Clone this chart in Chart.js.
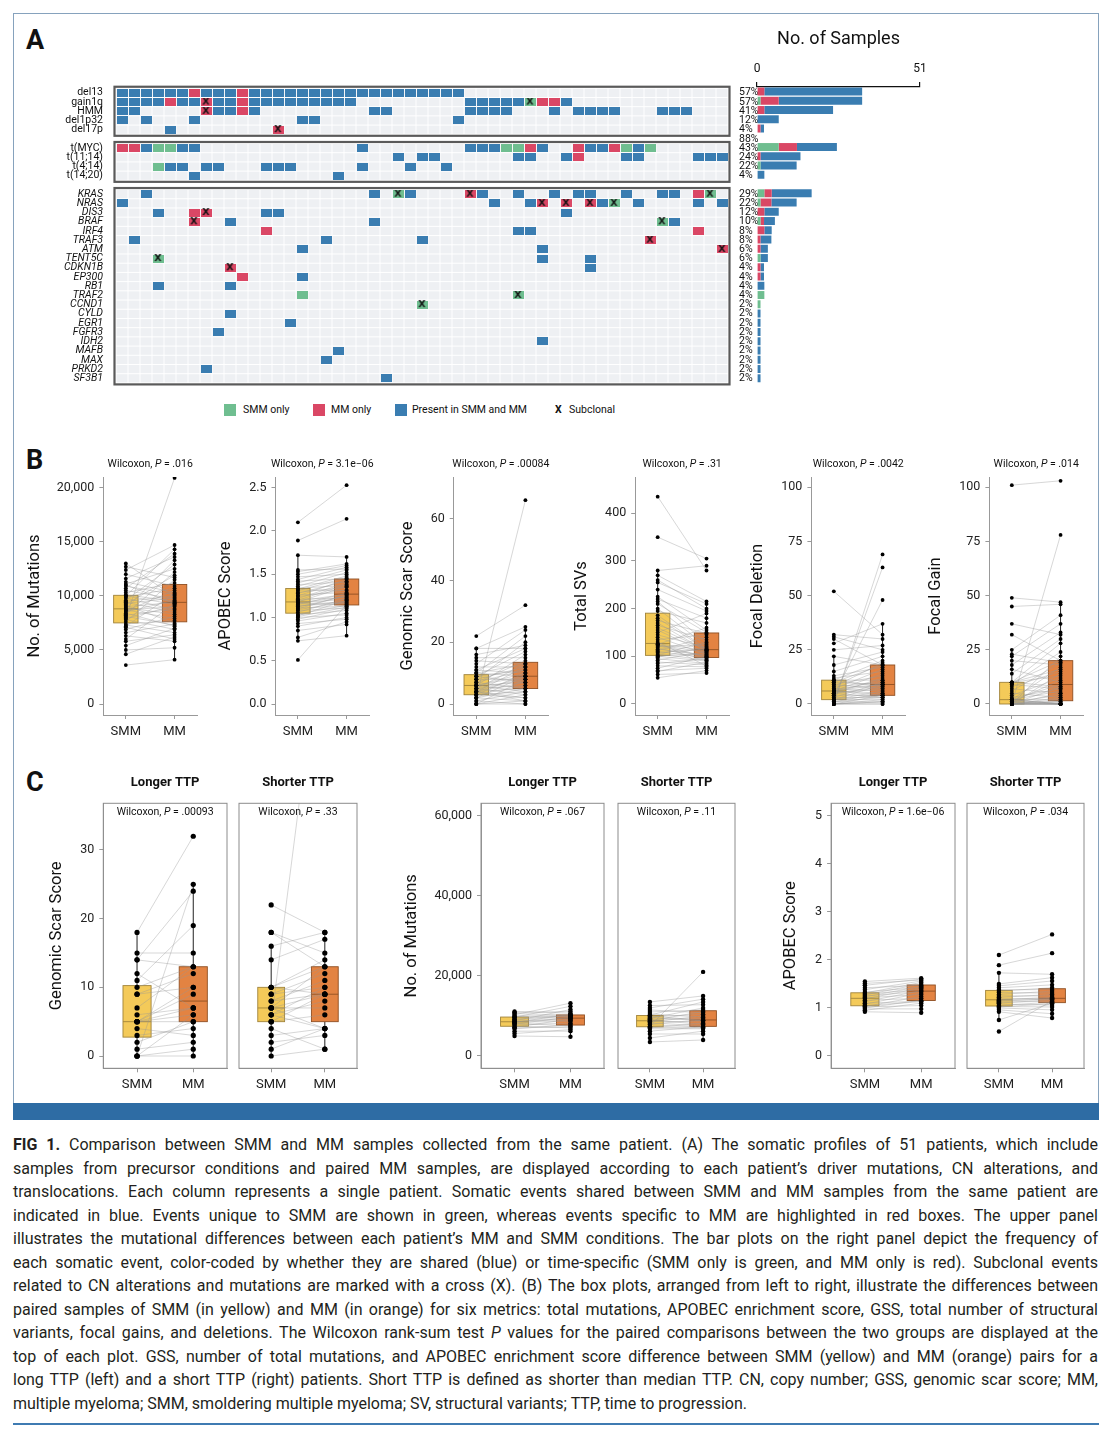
<!DOCTYPE html>
<html>
<head>
<meta charset="utf-8">
<title>FIG 1</title>
<script src="https://cdn.jsdelivr.net/npm/chart.js@4.4.1/dist/chart.umd.min.js"></script>
<style>
html,body{margin:0;padding:0;background:#fff;}
body{width:1110px;height:1438px;position:relative;overflow:hidden;font-family:Roboto,"Liberation Sans",Arial,sans-serif;color:#111;}
canvas{position:absolute;}
.abs{position:absolute;}
.letter{position:absolute;font-weight:700;font-size:27px;line-height:1;left:26px;}
.lg{position:absolute;top:403px;font-size:10.5px;line-height:14px;white-space:nowrap;color:#111;}
.sw{position:absolute;top:404px;width:12px;height:12px;}
#caption{position:absolute;left:13px;top:1133px;width:1085px;font-size:16px;line-height:23.5px;color:#231f20;}
.ln{white-space:nowrap;text-align:justify;text-align-last:justify;}
.ln.last{text-align-last:left;}
</style>
</head>
<body>
<div class="abs" style="left:13px;top:13px;width:1084px;height:1090px;border:1.5px solid #86a2bd;border-bottom:none;"></div>
<div class="abs" style="left:13px;top:1103px;width:1086px;height:17px;background:#2e6ca4;"></div>
<div class="abs" style="left:13px;top:1423px;width:1086px;height:1.5px;background:#3f7bb2;"></div>

<div class="letter" style="top:27px;">A</div>
<div class="letter" style="top:447px;">B</div>
<div class="letter" style="top:769px;">C</div>

<div class="sw" style="left:224px;background:#6fbe90;"></div><div class="lg" style="left:243px;">SMM only</div>
<div class="sw" style="left:313px;background:#da4765;"></div><div class="lg" style="left:331px;">MM only</div>
<div class="sw" style="left:395px;background:#3a7db1;"></div><div class="lg" style="left:412px;">Present in SMM and MM</div>
<div class="lg" style="left:555px;font-weight:700;">X</div><div class="lg" style="left:569px;">Subclonal</div>

<div id="caption">
<div class="ln"><b>FIG 1.</b> Comparison between SMM and MM samples collected from the same patient. (A) The somatic profiles of 51 patients, which include</div>
<div class="ln">samples from precursor conditions and paired MM samples, are displayed according to each patient’s driver mutations, CN alterations, and</div>
<div class="ln">translocations. Each column represents a single patient. Somatic events shared between SMM and MM samples from the same patient are</div>
<div class="ln">indicated in blue. Events unique to SMM are shown in green, whereas events specific to MM are highlighted in red boxes. The upper panel</div>
<div class="ln">illustrates the mutational differences between each patient’s MM and SMM conditions. The bar plots on the right panel depict the frequency of</div>
<div class="ln">each somatic event, color-coded by whether they are shared (blue) or time-specific (SMM only is green, and MM only is red). Subclonal events</div>
<div class="ln">related to CN alterations and mutations are marked with a cross (X). (B) The box plots, arranged from left to right, illustrate the differences between</div>
<div class="ln">paired samples of SMM (in yellow) and MM (in orange) for six metrics: total mutations, APOBEC enrichment score, GSS, total number of structural</div>
<div class="ln">variants, focal gains, and deletions. The Wilcoxon rank-sum test <i>P</i> values for the paired comparisons between the two groups are displayed at the</div>
<div class="ln">top of each plot. GSS, number of total mutations, and APOBEC enrichment score difference between SMM (yellow) and MM (orange) pairs for a</div>
<div class="ln">long TTP (left) and a short TTP (right) patients. Short TTP is defined as shorter than median TTP. CN, copy number; GSS, genomic scar score; MM,</div>
<div class="ln last">multiple myeloma; SMM, smoldering multiple myeloma; SV, structural variants; TTP, time to progression.</div>
</div>

<script>
// ================= DATA: Panel A (oncoplot) =================
const rowLabels = ['del13','gain1q','HMM','del1p32','del17p','',
  't(MYC)','t(11;14)','t(4;14)','t(14;20)','',
  'KRAS','NRAS','DIS3','BRAF','IRF4','TRAF3','ATM','TENT5C','CDKN1B','EP300','RB1','TRAF2','CCND1',
  'CYLD','EGR1','FGFR3','IDH2','MAFB','MAX','PRKD2','SF3B1'];
const rowPercents = ['57%','57%','41%','12%','4%','88%',
  '43%','24%','22%','4%','',
  '29%','22%','12%','10%','8%','8%','6%','6%','4%','4%','4%','4%','2%',
  '2%','2%','2%','2%','2%','2%','2%','2%'];
// patient columns (0-50) per row
const sharedCells = [
  [0,1,2,3,4,5,7,8,9,11,12,13,14,15,16,17,18,19,20,21,22,23,24,25,26,27,28],
  [0,1,2,3,5,6,8,9,11,12,13,14,15,16,17,18,19,29,30,31,32,33,37],
  [0,1,8,9,11,21,22,29,30,31,32,36,38,39,40,41,45,46,47],
  [0,2,6,15,16,28],
  [4],
  [],
  [2,5,6,20,29,30,31,35,39,40,43],
  [23,25,26,33,34,37,42,43,48,49,50],
  [4,5,7,8,12,13,14,20,24,27],
  [6,18],
  [],
  [2,21,24,30,33,36,38,39,42,45,46],
  [0,31,34,40,43,48,50],
  [3,12,13,37],
  [9,21,46],
  [33,34],
  [1,17,25],
  [15,35],
  [35,39],
  [39],
  [15],
  [3,9],
  [],
  [],
  [9],[14],[8],[35],[18],[17],[7],[22]
];
const mmOnlyCells = [
  [6,10],[4,7,10,35,36],[7,10],[],[13],[],
  [0,1,34,38,41],[38],[],[],[],
  [29,48],[35,37,39],[6,7],[6],[12,48],[44],[50],[],[9],[10],[],[],[],
  [],[],[],[],[],[],[],[]
];
const smmOnlyCells = [
  [],[34],[],[],[],[],
  [3,4,32,33,42,44],[],[3],[],[],
  [23,49],[41],[],[45],[],[],[],[3],[],[],[],[15,33],[25],
  [],[],[],[],[],[],[],[]
];
const subclonalCells = [
  [],[7,34],[7],[],[13],[],
  [],[],[],[],[],
  [23,29,49],[35,37,39,41],[7],[6,45],[],[44],[50],[3],[9],[],[],[33],[25],
  [],[],[],[],[],[],[],[]
];
// bar panel values (No. of Samples axis units), per row
const barSmmOnly = [0,1.1,0,0,0,null, 6.8,0,1.1,0,null, 2.3,1.1,0,1.1,0,0,0,1.1,0,0,0,2.3,1.1, 0,0,0,0,0,0,0,0];
const barMmOnly  = [2.3,5.7,2.3,0,1.1,null, 5.7,1.1,0,0,null, 2.3,3.4,2.3,1.1,2.3,1.1,1.1,0,1.1,1.1,0,0,0, 0,0,0,0,0,0,0,0];
const barShared  = [30.6,26.1,21.5,6.8,1.1,null, 12.5,12.5,11.3,2.3,null, 12.5,7.9,4.5,3.4,2.3,3.4,2.3,2.3,1.1,1.1,2.3,0,0, 1.1,1.1,1.1,1.1,1.1,1.1,1.1,1.1];
const barTicks = [0, 51];

// ================= DATA: Panel B (paired SMM / MM, 51 patients) =================
const smmMutations = [3600,4600,5000,5400,5800,6000,6300,6600,6900,7100,7200,7300,7400,7600,7800,7900,8000,8100,8200,8300,8400,8500,8600,8700,8700,8800,8900,9000,9100,9200,9300,9400,9500,9600,9800,9900,10000,10000,10100,10300,10500,10700,10900,11000,11100,11300,11600,12000,12400,12700,13000];
const mmMutations  = [4100,6200,5200,7000,6400,9300,5800,7400,8100,6000,10200,6600,7700,11500,6900,9100,20900,7300,8800,12200,7200,9600,10500,7900,9000,13300,8300,9400,7500,11900,9800,8500,10000,12900,8700,10700,9200,14300,9500,11200,9700,13900,10100,9300,12500,10300,13600,10900,14700,11700,9900];
const smmApobec = [0.51,0.73,0.77,0.85,0.90,0.93,0.96,0.98,1.00,1.01,1.02,1.03,1.04,1.06,1.08,1.09,1.10,1.11,1.12,1.13,1.14,1.15,1.16,1.17,1.17,1.18,1.19,1.20,1.21,1.22,1.24,1.25,1.26,1.28,1.29,1.31,1.32,1.33,1.34,1.36,1.38,1.40,1.42,1.44,1.47,1.50,1.53,1.55,1.72,1.89,2.10];
const mmApobec  = [1.15,0.79,0.95,0.92,1.00,0.98,1.05,1.10,1.03,1.12,1.20,1.08,1.14,1.22,1.11,1.18,1.26,1.13,1.25,1.19,1.16,1.28,1.17,1.21,1.24,1.36,1.27,1.38,1.23,1.40,1.32,1.44,1.29,1.42,1.35,1.46,1.31,1.48,1.37,1.52,1.41,1.55,1.45,1.58,1.50,1.60,1.62,1.56,1.70,2.14,2.53];
const smmGss = [0,0,0,0,1,1,2,2,2,2,3,3,3,3,4,4,4,4,4,4,5,5,5,5,6,6,6,6,6,7,7,7,8,8,8,9,9,9,10,10,10,11,11,12,13,14,15,16,18,18,22];
const mmGss  = [0,1,3,8,0,4,1,66,5,9,2,6,10,4,1,7,12,5,2,9,3,8,13,6,4,10,7,16,9,11,5,14,8,20,12,7,11,17,9,13,22,10,18,12,24,13,15,19,18,25,32];
const smmSvs = [55,62,68,70,75,80,85,88,92,95,98,100,101,103,105,108,110,112,115,118,120,122,124,125,125,127,130,135,140,145,150,155,160,165,170,175,180,186,195,200,210,215,220,225,240,255,260,270,280,350,435];
const mmSvs  = [70,65,88,75,100,78,95,82,110,85,120,90,105,130,92,115,97,140,102,93,125,98,108,160,99,112,80,145,104,118,190,107,113,135,111,148,114,116,170,122,150,128,180,155,195,210,200,215,290,305,280];
const smmFocalDel = [0,0,0,0,0,0,0,1,1,1,1,2,2,2,2,3,3,4,4,5,5,5,5,6,6,6,6,6,7,7,7,8,8,9,9,10,10,11,11,11,12,13,15,18,22,25,28,30,31,32,52];
const mmFocalDel  = [0,1,69,2,0,4,1,3,1,63,5,2,9,4,6,3,10,4,48,7,3,12,8,9,5,14,4,11,9,16,6,10,19,7,13,9,18,11,20,8,15,17,22,24,18,27,37,18,25,30,32];
const smmFocalGain = [0,0,0,0,0,0,0,0,0,0,0,0,0,0,0,1,1,1,1,1,2,2,2,2,2,2,3,4,5,6,7,8,9,9,10,10,10,10,10,14,16,18,20,22,23,25,32,37,45,49,101];
const mmFocalGain  = [0,0,0,0,0,0,1,1,2,3,5,8,14,22,78,0,0,1,4,11,0,0,2,6,9,17,7,12,3,19,5,15,7,24,8,20,13,28,16,30,10,33,18,37,19,41,20,32,46,47,103];
const pValuesB = ['.016','3.1e\u221206','.00084','.31','.0042','.014'];

// ================= DATA: Panel C (Longer vs Shorter TTP) =================
const gssLongSmm  = [0,0,0,0,1,2,3,4,5,5,5,5,5,6,7,9,9,10,11,12,14,14,15,18];
const gssLongMm   = [0,1,6,25,2,5,4,3,7,10,5,9,6,7,13,12,10,13,19,7,24,13,15,32];
const gssShortSmm = [0,1,2,3,4,5,5,5,6,6,6,7,7,7,7,8,8,9,9,10,10,10,14,16,18,18,22];
const gssShortMm  = [1,4,3,4,1,6,9,66,8,10,4,9,7,13,4,11,9,10,12,13,9,14,17,18,15,13,18];
const mutLongSmm  = [5000,5600,6200,6800,7000,7200,7500,7800,8000,8200,8400,8500,8600,8800,9000,9200,9500,9700,9800,10000,10300,10600,10900,11100];
const mutLongMm   = [4800,6600,6200,7800,7300,9200,7000,8200,9700,7500,10400,8600,9400,11600,8900,10000,9500,12400,9900,10100,13200,10200,11100,10700];
const mutShortSmm = [3500,4500,5500,6200,6800,7000,7200,7400,7800,8000,8300,8500,8700,8800,9000,9200,9400,9600,9800,10000,10200,10500,11000,11500,12000,12600,13500];
const mutShortMm  = [4000,6200,5500,7300,6800,8200,7000,21000,7200,9000,7500,10000,8500,11100,7900,9300,12000,8800,10400,8900,13500,9700,11500,10800,14200,12800,15000];
const apoLongSmm  = [0.92,0.95,0.98,1.00,1.02,1.03,1.05,1.08,1.10,1.13,1.16,1.19,1.21,1.23,1.25,1.27,1.29,1.31,1.33,1.38,1.42,1.47,1.51,1.55];
const apoLongMm   = [0.90,1.10,0.98,1.16,1.05,1.24,1.13,1.31,1.14,1.36,1.20,1.41,1.28,1.45,1.34,1.50,1.38,1.53,1.43,1.56,1.47,1.60,1.58,1.62];
const apoShortSmm = [0.51,0.75,0.92,0.96,1.00,1.02,1.03,1.05,1.08,1.10,1.12,1.14,1.16,1.17,1.19,1.22,1.25,1.28,1.32,1.35,1.38,1.42,1.46,1.50,1.73,1.89,2.10];
const apoShortMm  = [1.15,1.10,0.79,0.88,0.96,1.09,1.02,1.12,1.06,1.17,1.14,1.19,1.18,1.22,1.20,1.28,1.25,1.35,1.31,1.42,1.38,1.48,1.56,1.63,1.70,2.14,2.53];
const pValuesC = ['.00093','.33','.067','.11','1.6e\u221206','.034'];
const facetTitles = ['Longer TTP','Shorter TTP'];
const groupLabels = ['SMM','MM'];

// ================= RENDERING =================
// caption: keep each printed line on one row (compress tracking only if a line would overflow)
document.querySelectorAll('#caption .ln').forEach(el => {
  el.style.display = 'inline-block';
  const w = el.getBoundingClientRect().width;
  const n = el.textContent.length;
  if (w > 1084) el.style.letterSpacing = (-(w - 1083) / n) + 'px';
  el.style.display = 'block';
});

const FAMILY = 'Roboto, "Liberation Sans", Arial, sans-serif';
Chart.defaults.font.family = FAMILY;
Chart.defaults.color = '#222';
const C_BLUE = '#3a7db1', C_RED = '#da4765', C_GREEN = '#6fbe90';

function mk(left, top, w, h) {
  const c = document.createElement('canvas');
  c.width = Math.round(w); c.height = Math.round(h);
  c.style.left = left + 'px'; c.style.top = top + 'px';
  c.style.width = Math.round(w) + 'px'; c.style.height = Math.round(h) + 'px';
  document.body.appendChild(c);
  return c;
}
function cellImg(color) {
  const c = document.createElement('canvas'); c.width = 11; c.height = 8;
  const g = c.getContext('2d'); g.fillStyle = color; g.fillRect(0, 0, 11, 8); return c;
}
function xMarkImg() {
  const c = document.createElement('canvas'); c.width = 11; c.height = 9;
  const g = c.getContext('2d'); g.fillStyle = '#111'; g.font = 'bold 9.5px "DejaVu Sans"';
  g.textAlign = 'center'; g.textBaseline = 'middle'; g.fillText('X', 5.5, 5); return c;
}
function toPoints(rows) { const out = []; rows.forEach((cols, s) => cols.forEach(c => out.push({x: c, y: s}))); return out; }

// ---- Panel A heatmap ----
const heatGroups = [[0, 4], [6, 9], [11, 31]];
const heatPlugin = {
  id: 'heatGrid',
  beforeDatasetsDraw(chart) {
    const {ctx, scales: {x, y}} = chart;
    const cw = x.getPixelForValue(1) - x.getPixelForValue(0);
    const rh = Math.abs(y.getPixelForValue(1) - y.getPixelForValue(0));
    ctx.save();
    ctx.fillStyle = '#eef0f3';
    rowLabels.forEach((lab, s) => {
      if (!lab) return;
      for (let c = 0; c < 51; c++) {
        const px = x.getPixelForValue(c), py = y.getPixelForValue(s);
        ctx.fillRect(px - cw / 2 + 0.5, py - rh / 2 + 0.5, cw - 1, rh - 1);
      }
    });
    ctx.strokeStyle = '#5a5a5a'; ctx.lineWidth = 2.2;
    heatGroups.forEach(([a, b]) => {
      const x0 = x.getPixelForValue(-0.5) - 1.5, x1 = x.getPixelForValue(50.5) + 1.5;
      const y0 = y.getPixelForValue(a - 0.5) - 1.5, y1 = y.getPixelForValue(b + 0.5) + 1.5;
      ctx.strokeRect(x0, y0, x1 - x0, y1 - y0);
    });
    ctx.restore();
  }
};
new Chart(mk(0, 78, 760, 316), {
  type: 'scatter',
  data: {datasets: [
    {label: 'Subclonal', data: toPoints(subclonalCells), pointStyle: xMarkImg(), pointRadius: 4},
    {label: 'SMM only', data: toPoints(smmOnlyCells), pointStyle: cellImg(C_GREEN), pointRadius: 4},
    {label: 'MM only', data: toPoints(mmOnlyCells), pointStyle: cellImg(C_RED), pointRadius: 4},
    {label: 'Present in SMM and MM', data: toPoints(sharedCells), pointStyle: cellImg(C_BLUE), pointRadius: 4}
  ]},
  options: {
    animation: false, responsive: false, events: [],
    layout: {padding: {top: 8.9, bottom: 11.1, left: 0, right: 0}},
    plugins: {legend: {display: false}, tooltip: {enabled: false}},
    scales: {
      x: {type: 'linear', min: -0.5, max: 50.5, display: false},
      y: {type: 'linear', min: -0.5, max: 31.5, reverse: true, position: 'left',
        afterBuildTicks: a => { a.ticks = rowLabels.map((l, i) => ({value: i})); },
        ticks: {autoSkip: false, padding: 5, color: '#111', callback: (v, i) => rowLabels[i],
          font: ctx => ({size: 10.5, style: ctx.index >= 11 ? 'italic' : 'normal', lineHeight: 1})},
        grid: {display: false}, border: {display: false},
        afterFit: s => { s.width = 116; }},
      y2: {type: 'linear', min: -0.5, max: 31.5, reverse: true, position: 'right',
        afterBuildTicks: a => { a.ticks = rowPercents.map((l, i) => ({value: i})); },
        ticks: {autoSkip: false, padding: 3, color: '#111', callback: (v, i) => rowPercents[i],
          font: {size: 10.5, lineHeight: 1}},
        grid: {display: false}, border: {display: false},
        afterFit: s => { s.width = 32; }}
    }
  },
  plugins: [heatPlugin]
});

// ---- Panel A bar chart ----
new Chart(mk(740, 22, 200, 372), {
  type: 'bar',
  data: {
    labels: rowLabels.map((l, i) => l || ('gap' + i)),
    datasets: [
      {label: 'SMM only', data: barSmmOnly, backgroundColor: C_GREEN},
      {label: 'MM only', data: barMmOnly, backgroundColor: C_RED},
      {label: 'Present in SMM and MM', data: barShared, backgroundColor: C_BLUE}
    ]
  },
  options: {
    indexAxis: 'y', animation: false, responsive: false, events: [],
    datasets: {bar: {barPercentage: 0.86, categoryPercentage: 1.0, borderWidth: 0}},
    layout: {padding: {top: 0, bottom: 11.1, left: 17, right: 20}},
    plugins: {legend: {display: false}, tooltip: {enabled: false}},
    scales: {
      y: {type: 'category', stacked: true, display: false},
      x: {type: 'linear', stacked: true, min: 0, max: 51, position: 'top',
        afterBuildTicks: a => { a.ticks = barTicks.map(v => ({value: v})); },
        ticks: {font: {size: 12}, color: '#111', padding: 6},
        grid: {drawOnChartArea: false, tickLength: 5, color: '#111', lineWidth: 1.2},
        border: {display: true, color: '#111', width: 1.2},
        title: {display: true, text: 'No. of Samples', font: {size: 18}, color: '#111', padding: {top: 7, bottom: 0}},
        afterFit: s => { s.height = 64.9; }}
    }
  }
});

// ---- Box plot helpers ----
function quantile(s, p) { const pos = (s.length - 1) * p, lo = Math.floor(pos), hi = Math.ceil(pos); return s[lo] + (s[hi] - s[lo]) * (pos - lo); }
function stats(arr) {
  const s = [...arr].sort((a, b) => a - b);
  const q1 = quantile(s, 0.25), med = quantile(s, 0.5), q3 = quantile(s, 0.75), iqr = q3 - q1;
  const lo = s.find(v => v >= q1 - 1.5 * iqr);
  const hi = [...s].reverse().find(v => v <= q3 + 1.5 * iqr);
  return {q1, med, q3, lo, hi};
}
function drawRich(ctx, parts, cx, cy, size, weight) {
  const fonts = parts.map(p => `${p[1]} ${weight} ${size}px ${FAMILY}`);
  let total = 0;
  parts.forEach((p, i) => { ctx.font = fonts[i]; total += ctx.measureText(p[0]).width; });
  let xx = cx - total / 2;
  ctx.textBaseline = 'middle'; ctx.textAlign = 'left';
  parts.forEach((p, i) => { ctx.font = fonts[i]; ctx.fillText(p[0], xx, cy); xx += ctx.measureText(p[0]).width; });
}
const fmtComma = v => Number(v).toLocaleString('en-US');

function boxChart(o) {
  const lineData = [];
  o.smm.forEach((v, i) => { lineData.push({x: 1, y: v}, {x: 2, y: o.mm[i]}, {x: 1.5, y: null}); });
  const plugin = {
    id: 'boxes',
    beforeDatasetsDraw(chart) {
      const {ctx, chartArea: ca, scales: {x, y}} = chart;
      ctx.save();
      ctx.beginPath(); ctx.rect(ca.left, ca.top, ca.width, ca.height); ctx.clip();
      [[1, o.smm, 'rgba(243,198,76,0.93)', '#a0833a'], [2, o.mm, 'rgba(225,122,52,0.93)', '#8f4f22']].forEach(([pos, data, fill, stroke]) => {
        const st = stats(data);
        const xc = x.getPixelForValue(pos), xl = x.getPixelForValue(pos - 0.25), xr = x.getPixelForValue(pos + 0.25);
        ctx.strokeStyle = '#222'; ctx.lineWidth = 1;
        ctx.beginPath();
        ctx.moveTo(xc, y.getPixelForValue(st.hi)); ctx.lineTo(xc, y.getPixelForValue(st.q3));
        ctx.moveTo(xc, y.getPixelForValue(st.q1)); ctx.lineTo(xc, y.getPixelForValue(st.lo));
        ctx.stroke();
        const yt = y.getPixelForValue(st.q3), yb = y.getPixelForValue(st.q1);
        ctx.fillStyle = fill; ctx.fillRect(xl, yt, xr - xl, yb - yt);
        ctx.strokeStyle = stroke; ctx.lineWidth = 0.9; ctx.strokeRect(xl, yt, xr - xl, yb - yt);
        const ym = y.getPixelForValue(st.med);
        ctx.beginPath(); ctx.moveTo(xl, ym); ctx.lineTo(xr, ym); ctx.stroke();
      });
      ctx.restore();
    },
    afterDraw(chart) {
      const {ctx, chartArea: ca} = chart;
      ctx.save();
      if (o.frame) { ctx.strokeStyle = '#8c8c8c'; ctx.lineWidth = 1; ctx.strokeRect(ca.left, ca.top, ca.width, ca.height); }
      ctx.fillStyle = '#111';
      const cx = (ca.left + ca.right) / 2;
      drawRich(ctx, [['Wilcoxon, ', 'normal'], ['P', 'italic'], [' = ' + o.p, 'normal']], cx, o.frame ? ca.top + 9.5 : ca.top - 12.5, 10.5, 'normal');
      if (o.strip) { ctx.font = `bold 13px ${FAMILY}`; ctx.textAlign = 'center'; ctx.textBaseline = 'middle'; ctx.fillText(o.strip, cx, ca.top - 21); }
      ctx.restore();
    }
  };
  const padLeft = o.showY ? 0 : (o.ax0 - o.cl);
  new Chart(mk(o.cl, o.ct, o.cw, o.ch), {
    type: 'scatter',
    data: {datasets: [
      {data: o.smm.map(v => ({x: 1, y: v})), pointRadius: o.r, backgroundColor: '#000', borderWidth: 0},
      {data: o.mm.map(v => ({x: 2, y: v})), pointRadius: o.r, backgroundColor: '#000', borderWidth: 0},
      {type: 'line', data: lineData, borderColor: 'rgba(150,150,150,0.55)', borderWidth: 0.7, pointRadius: 0, spanGaps: false, fill: false, tension: 0}
    ]},
    options: {
      animation: false, responsive: false, events: [],
      layout: {padding: {left: padLeft, right: o.cl + o.cw - o.ax1, top: o.ay0 - o.ct, bottom: 0}},
      plugins: {legend: {display: false}, tooltip: {enabled: false}},
      scales: {
        x: {type: 'linear', min: o.xr[0], max: o.xr[1],
          afterBuildTicks: a => { a.ticks = [{value: 1}, {value: 2}]; },
          ticks: {callback: v => groupLabels[Math.round(v) - 1], font: {size: 13}, color: '#222', padding: 5, maxRotation: 0},
          grid: {display: true, drawOnChartArea: false, tickLength: 4, color: '#999'},
          border: {display: true, color: '#999'},
          afterFit: s => { s.height = o.ct + o.ch - o.ay1; }},
        y: {type: 'linear', display: o.showY, min: o.yr[0], max: o.yr[1],
          afterBuildTicks: a => { a.ticks = o.ticks.map(v => ({value: v})); },
          ticks: {callback: o.fmt, font: {size: 12.5}, color: '#222', padding: 5},
          grid: {drawOnChartArea: false, tickLength: 4, color: '#999'},
          border: {display: true, color: '#999'},
          title: {display: true, text: o.yTitle, font: {size: 16.5}, color: '#111', padding: {top: 0, bottom: 0}},
          afterFit: s => { s.width = o.ax0 - o.cl; }}
      }
    },
    plugins: [plugin]
  });
}

// ---- Panel B ----
const bCommon = {ct: 450, ch: 300, ay0: 477, ay1: 715, xr: [0.54, 2.46], r: 1.9, showY: true, frame: false};
const bPanels = [
  {cl: 25.3, ax0: 103.7, smm: smmMutations, mm: mmMutations, yr: [-1017, 20990], ticks: [0, 5000, 10000, 15000, 20000], fmt: fmtComma, yTitle: 'No. of Mutations', p: pValuesB[0]},
  {cl: 216.4, ax0: 275.9, smm: smmApobec, mm: mmApobec, yr: [-0.127, 2.624], ticks: [0, 0.5, 1, 1.5, 2, 2.5], fmt: v => Number(v).toFixed(1), yTitle: 'APOBEC Score', p: pValuesB[1]},
  {cl: 397.8, ax0: 453.5, smm: smmGss, mm: mmGss, yr: [-3.56, 73.5], ticks: [0, 20, 40, 60], fmt: v => String(v), yTitle: 'Genomic Scar Score', p: pValuesB[2]},
  {cl: 571.8, ax0: 635, smm: smmSvs, mm: mmSvs, yr: [-23.1, 476.2], ticks: [0, 100, 200, 300, 400], fmt: v => String(v), yTitle: 'Total SVs', p: pValuesB[3]},
  {cl: 748.1, ax0: 811.5, smm: smmFocalDel, mm: mmFocalDel, yr: [-5.08, 104.75], ticks: [0, 25, 50, 75, 100], fmt: v => String(v), yTitle: 'Focal Deletion', p: pValuesB[4]},
  {cl: 926.1, ax0: 989.5, smm: smmFocalGain, mm: mmFocalGain, yr: [-5.08, 104.75], ticks: [0, 25, 50, 75, 100], fmt: v => String(v), yTitle: 'Focal Gain', p: pValuesB[5]}
];
bPanels.forEach(p => {
  const ax1 = p.ax0 + 94;
  boxChart(Object.assign({}, bCommon, p, {ax1: ax1, cw: ax1 + 16 - p.cl}));
});

// ---- Panel C ----
const cCommon = {ct: 765, ch: 335, ay0: 803.3, ay1: 1068.3, xr: [0.4, 2.6], frame: true};
const cGroups = [
  {cl: 47, f: [[103.3, 226.6], [232.5, 356.4]], data: [[gssLongSmm, gssLongMm], [gssShortSmm, gssShortMm]], yr: [-1.79, 36.8], ticks: [0, 10, 20, 30], fmt: v => String(v), yTitle: 'Genomic Scar Score', r: 2.6, p: [pValuesC[0], pValuesC[1]]},
  {cl: 402.4, f: [[481.4, 604.7], [611.7, 734.4]], data: [[mutLongSmm, mutLongMm], [mutShortSmm, mutShortMm]], yr: [-3072, 63096], ticks: [0, 20000, 40000, 60000], fmt: fmtComma, yTitle: 'No. of Mutations', r: 2.2, p: [pValuesC[2], pValuesC[3]]},
  {cl: 781.2, f: [[831.3, 954.7], [961.3, 1084.4]], data: [[apoLongSmm, apoLongMm], [apoShortSmm, apoShortMm]], yr: [-0.256, 5.258], ticks: [0, 1, 2, 3, 4, 5], fmt: v => String(v), yTitle: 'APOBEC Score', r: 2.2, p: [pValuesC[4], pValuesC[5]]}
];
cGroups.forEach(g => {
  g.f.forEach(([ax0, ax1], k) => {
    const cl = k === 0 ? g.cl : ax0 - 6;
    boxChart(Object.assign({}, cCommon, {
      cl: cl, cw: ax1 + 8 - cl, ax0: ax0, ax1: ax1, showY: k === 0,
      smm: g.data[k][0], mm: g.data[k][1], yr: g.yr, ticks: g.ticks, fmt: g.fmt, yTitle: g.yTitle,
      r: g.r, p: g.p[k], strip: facetTitles[k]
    }));
  });
});
</script>
</body>
</html>
